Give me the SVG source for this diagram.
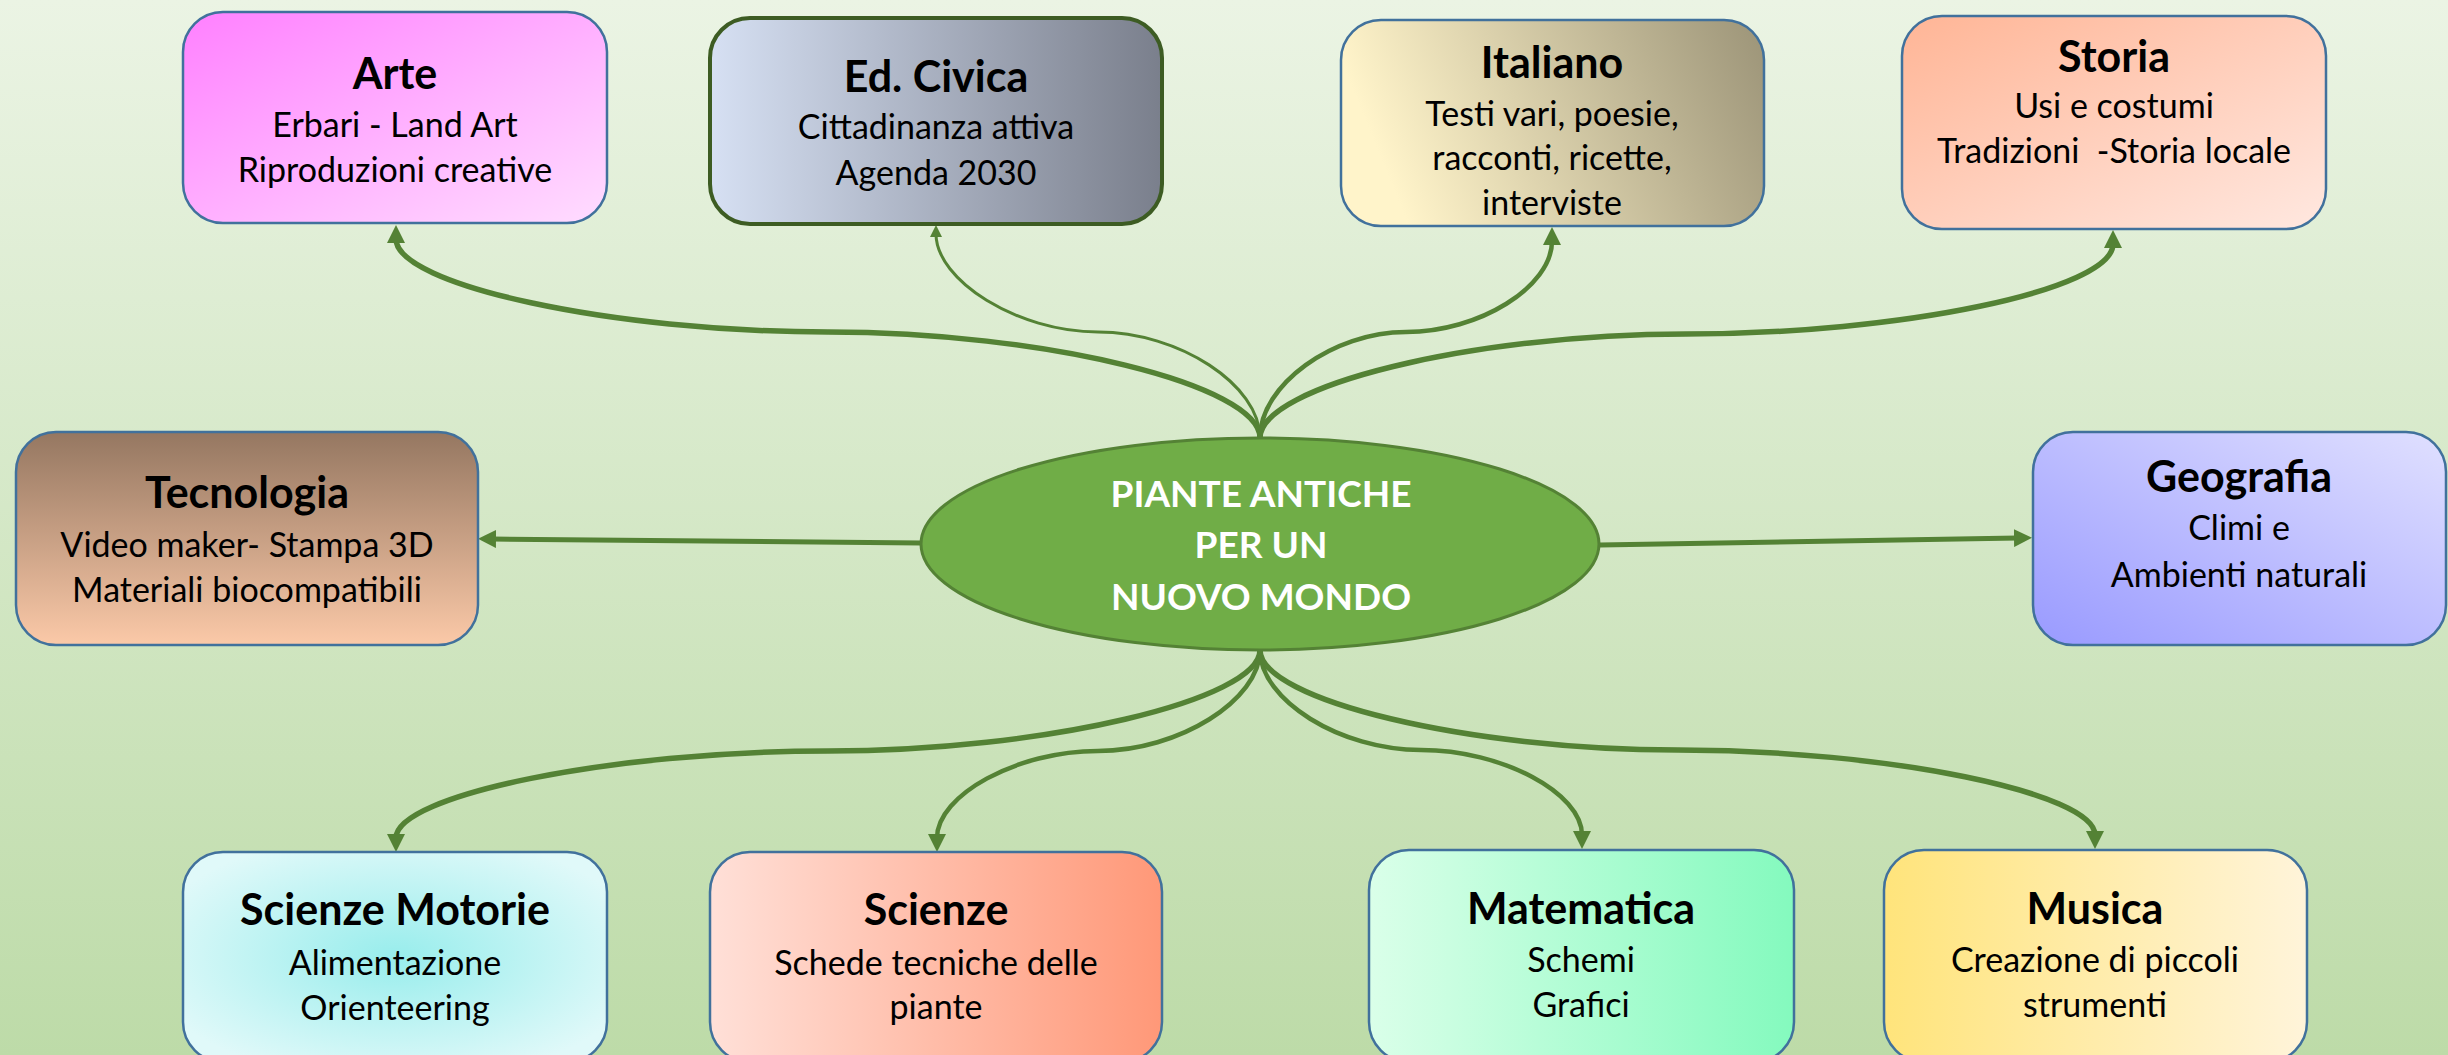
<svg xmlns="http://www.w3.org/2000/svg" width="2448" height="1055" viewBox="0 0 2448 1055">
<defs>
<linearGradient id="bg" x1="0" y1="0" x2="0" y2="1"><stop offset="0" stop-color="#EBF4E4"/><stop offset="1" stop-color="#BDDBA8"/></linearGradient>
<linearGradient id="gArte" x1="0" y1="0" x2="1" y2="1"><stop offset="0" stop-color="#FF80FF"/><stop offset="1" stop-color="#FFDDFF"/></linearGradient>
<linearGradient id="gCiv" x1="0" y1="0" x2="1" y2="0"><stop offset="0" stop-color="#D6E0F3"/><stop offset="1" stop-color="#7A7F8C"/></linearGradient>
<linearGradient id="gIta" x1="0" y1="0.2" x2="1" y2="0"><stop offset="0" stop-color="#FFF4CA"/><stop offset="1" stop-color="#9C9478"/></linearGradient>
<linearGradient id="gSto" x1="0" y1="0" x2="1" y2="1"><stop offset="0" stop-color="#FFB596"/><stop offset="1" stop-color="#FFE8E0"/></linearGradient>
<linearGradient id="gTec" x1="0" y1="0" x2="0" y2="1"><stop offset="0" stop-color="#957761"/><stop offset="1" stop-color="#FBC9A8"/></linearGradient>
<linearGradient id="gGeo" x1="0" y1="1" x2="1" y2="0"><stop offset="0" stop-color="#999AFF"/><stop offset="1" stop-color="#E0E0FF"/></linearGradient>
<radialGradient id="gMot" cx="0.5" cy="0.5" r="0.6"><stop offset="0" stop-color="#98EDEC"/><stop offset="1" stop-color="#E0F9F9"/></radialGradient>
<linearGradient id="gSci" x1="0" y1="0" x2="1" y2="0"><stop offset="0" stop-color="#FFE0D8"/><stop offset="1" stop-color="#FF9878"/></linearGradient>
<linearGradient id="gMat" x1="0" y1="0" x2="1" y2="0"><stop offset="0" stop-color="#DAFFE9"/><stop offset="1" stop-color="#84FABE"/></linearGradient>
<linearGradient id="gMus" x1="0" y1="0" x2="1" y2="0"><stop offset="0" stop-color="#FFE47B"/><stop offset="1" stop-color="#FFF4DA"/></linearGradient>
<marker id="ah" markerUnits="userSpaceOnUse" viewBox="0 0 18 18" markerWidth="18" markerHeight="18" refX="4" refY="9" orient="auto"><path d="M0,0 L18,9 L0,18 z" fill="#548235"/></marker>
<marker id="ahs" markerUnits="userSpaceOnUse" viewBox="0 0 12 12" markerWidth="12" markerHeight="12" refX="3" refY="6" orient="auto"><path d="M0,0 L12,6 L0,12 z" fill="#548235"/></marker>
<style>
.box{stroke:#41719C;stroke-width:2.5}
.t{font-family:Lato,"Open Sans","Liberation Sans",sans-serif;font-weight:700;font-size:43px;fill:#000;text-anchor:middle}
.s{font-family:Lato,"Open Sans","Liberation Sans",sans-serif;font-size:34px;fill:#000;text-anchor:middle}
.c{font-family:Lato,"Open Sans","Liberation Sans",sans-serif;font-weight:700;font-size:37px;fill:#FFF;text-anchor:middle}
.con{fill:none;stroke:#548235;marker-end:url(#ah)}
</style>
</defs>
<rect width="2448" height="1055" fill="url(#bg)"/>
<g id="connectors">
<path class="con" stroke-width="5.5" d="M1260,438 C1260,385 1044,332 828,332 C612,332 396,285 396,239"/>
<path class="con" stroke-width="3" style="marker-end:url(#ahs)" d="M1260,438 C1260,385 1179,332 1098,332 C1017,332 936,280 936,234"/>
<path class="con" stroke-width="4.5" d="M1260,438 C1260,385 1333,332 1406,332 C1479,332 1552,287 1552,241"/>
<path class="con" stroke-width="5.5" d="M1260,438 C1260,386 1473,334 1686,334 C1900,334 2113,290 2113,244"/>
<path class="con" stroke-width="5.5" d="M1260,650 C1260,700 1044,751 828,751 C612,751 396,795 396,838"/>
<path class="con" stroke-width="4.5" d="M1260,650 C1260,700 1179,751 1098,751 C1017,751 937,795 937,838"/>
<path class="con" stroke-width="4.5" d="M1260,650 C1260,700 1340,750 1421,750 C1502,750 1582,793 1582,835"/>
<path class="con" stroke-width="5.5" d="M1260,650 C1260,700 1469,750 1678,750 C1887,750 2095,793 2095,835"/>
<path class="con" stroke-width="5" d="M921,543 L492,539"/>
<path class="con" stroke-width="5" d="M1600,545 L2018,538"/>
</g>
<g id="center">
<ellipse cx="1260" cy="544" rx="339" ry="106" fill="#70AD47" stroke="#548235" stroke-width="3"/>
<text class="c" x="1261" y="507">PIANTE ANTICHE</text>
<text class="c" x="1261" y="558">PER UN</text>
<text class="c" x="1261" y="610">NUOVO MONDO</text>
</g>
<g id="arte">
<rect class="box" x="183" y="12" width="424" height="211" rx="40" fill="url(#gArte)"/>
<text class="t" x="395" y="89">Arte</text>
<text class="s" x="395" y="137">Erbari - Land Art</text>
<text class="s" x="395" y="182">Riproduzioni creative</text>
</g>
<g id="edcivica">
<rect x="710" y="18" width="452" height="206" rx="40" fill="url(#gCiv)" stroke="#3D5C23" stroke-width="4"/>
<text class="t" x="936" y="92">Ed. Civica</text>
<text class="s" x="936" y="139">Cittadinanza attiva</text>
<text class="s" x="936" y="185">Agenda 2030</text>
</g>
<g id="italiano">
<rect class="box" x="1341" y="20" width="423" height="206" rx="40" fill="url(#gIta)"/>
<text class="t" x="1552" y="78">Italiano</text>
<text class="s" x="1552" y="126">Testi vari, poesie,</text>
<text class="s" x="1552" y="170">racconti, ricette,</text>
<text class="s" x="1552" y="215">interviste</text>
</g>
<g id="storia">
<rect class="box" x="1902" y="16" width="424" height="213" rx="40" fill="url(#gSto)"/>
<text class="t" x="2114" y="72">Storia</text>
<text class="s" x="2114" y="118">Usi e costumi</text>
<text class="s" x="2114" y="163" xml:space="preserve">Tradizioni  -Storia locale</text>
</g>
<g id="tecnologia">
<rect class="box" x="16" y="432" width="462" height="213" rx="40" fill="url(#gTec)"/>
<text class="t" x="247" y="508">Tecnologia</text>
<text class="s" x="247" y="557">Video maker- Stampa 3D</text>
<text class="s" x="247" y="602">Materiali biocompatibili</text>
</g>
<g id="geografia">
<rect class="box" x="2033" y="432" width="413" height="213" rx="40" fill="url(#gGeo)"/>
<text class="t" x="2239" y="492">Geografia</text>
<text class="s" x="2239" y="540">Climi e</text>
<text class="s" x="2239" y="587">Ambienti naturali</text>
</g>
<g id="scienzemotorie">
<rect class="box" x="183" y="852" width="424" height="210" rx="40" fill="url(#gMot)"/>
<text class="t" x="395" y="925">Scienze Motorie</text>
<text class="s" x="395" y="975">Alimentazione</text>
<text class="s" x="395" y="1020">Orienteering</text>
</g>
<g id="scienze">
<rect class="box" x="710" y="852" width="452" height="210" rx="40" fill="url(#gSci)"/>
<text class="t" x="936" y="925">Scienze</text>
<text class="s" x="936" y="975">Schede tecniche delle</text>
<text class="s" x="936" y="1019">piante</text>
</g>
<g id="matematica">
<rect class="box" x="1369" y="850" width="425" height="212" rx="40" fill="url(#gMat)"/>
<text class="t" x="1581" y="924">Matematica</text>
<text class="s" x="1581" y="972">Schemi</text>
<text class="s" x="1581" y="1017">Grafici</text>
</g>
<g id="musica">
<rect class="box" x="1884" y="850" width="423" height="212" rx="40" fill="url(#gMus)"/>
<text class="t" x="2095" y="924">Musica</text>
<text class="s" x="2095" y="972">Creazione di piccoli</text>
<text class="s" x="2095" y="1017">strumenti</text>
</g>
</svg>
